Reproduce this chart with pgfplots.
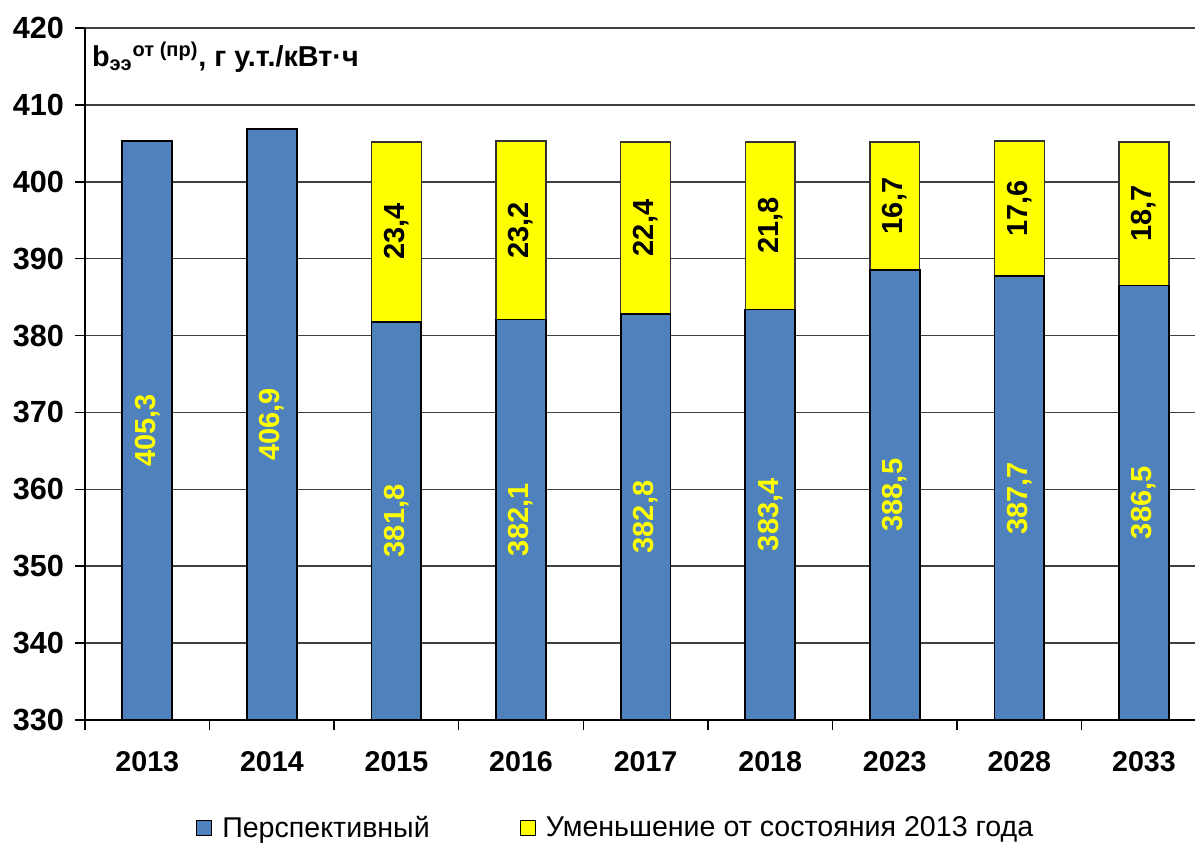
\documentclass[border=0pt]{standalone}
\usepackage{fontspec}
\setmainfont{Liberation Sans}
\usepackage{pgfplots}
\pgfplotsset{compat=1.18}
\usepackage{pgfplotstable}
\definecolor{barblue}{HTML}{4F81BD}
\definecolor{baryellow}{HTML}{FFFF00}

\pgfplotstableread{
x v lbl ymid
0 405.3 405,3 367.65
1 406.9 406,9 368.45
2 381.8 381,8 355.9
3 382.1 382,1 356.05
4 382.8 382,8 356.4
5 383.4 383,4 356.7
6 388.5 388,5 359.25
7 387.7 387,7 358.85
8 386.5 386,5 358.25
}\persp

\pgfplotstableread{
x total lbl ymid
2 405.2 23,4 393.5
3 405.3 23,2 393.7
4 405.2 22,4 394.0
5 405.2 21,8 394.3
6 405.2 16,7 396.85
7 405.3 17,6 396.5
8 405.2 18,7 395.85
}\decr

\begin{document}
\begin{tikzpicture}
\begin{axis}[
  at={(0,0)}, anchor=south west,
  scale only axis,
  width=555pt, height=346pt,
  xmin=-0.5, xmax=8.41,
  ymin=330, ymax=420,
  ytick={330,340,...,420},
  xtick={0,...,8},
  xticklabels={2013,2014,2015,2016,2017,2018,2023,2028,2033},
  minor xtick={-0.5,0.5,...,8.5},
  axis x line*=bottom, axis y line*=left,
  axis line style={-, black, line width=0.75pt},
  tick align=outside,
  major tick length=5pt, minor tick length=5pt,
  major x tick style={draw=none},
  minor x tick style={draw=black, line width=0.75pt},
  major y tick style={draw=black, line width=0.75pt},
  ymajorgrids,
  major grid style={draw=black!75, line width=0.75pt},
  /pgf/number format/assume math mode=true,
  yticklabel style={font=\bfseries\fontsize{15.3}{15}\selectfont, xshift=-2pt},
  xticklabel style={font=\bfseries\fontsize{14.3}{14}\selectfont, yshift=-7pt},
  legend columns=2,
  legend image code/.code={\draw[#1, line width=0.6pt] (0pt,-3.75pt) rectangle (7.5pt,3.75pt);},
  legend style={draw=none, fill=none, at={(0.479,-0.156)}, anchor=center,
    font=\fontsize{14.3}{16}\selectfont,
    /tikz/every odd column/.append style={column sep=3pt},
    /tikz/every even column/.append style={column sep=43pt}},
  clip=true,
]
\addlegendimage{fill=barblue, draw=black}
\addlegendentry{Перспективный}
\addlegendimage{fill=baryellow, draw=black}
\addlegendentry{Уменьшение от состояния 2013 года}

\addplot[ybar, bar width=0.4, bar shift=0pt, fill=baryellow, draw=black!80, line width=0.75pt, forget plot]
  table[x=x, y=total]{\decr};
\addplot[ybar, bar width=0.4, bar shift=0pt, fill=barblue, draw=black, line width=0.9pt, forget plot]
  table[x=x, y=v]{\persp};

\addplot[draw=none, mark=none, forget plot, nodes near coords, point meta=explicit symbolic,
  nodes near coords align=center,
  every node near coord/.append style={anchor=center, rotate=90, text=baryellow, font=\bfseries\fontsize{14.5}{14}\selectfont}]
  table[x=x, y=ymid, meta=lbl]{\persp};
\addplot[draw=none, mark=none, forget plot, nodes near coords, point meta=explicit symbolic,
  nodes near coords align=center,
  every node near coord/.append style={anchor=center, rotate=90, text=black, font=\bfseries\fontsize{14.5}{14}\selectfont}]
  table[x=x, y=ymid, meta=lbl]{\decr};

\node[anchor=west, font=\bfseries\fontsize{14.4}{14}\selectfont, inner sep=0pt] at (rel axis cs:0.006,0.958)
  {b\textsubscript{ээ}\textsuperscript{от (пр)}, г у.т./кВт·ч};
\end{axis}
\pgfresetboundingbox
\path (-42.5pt,-61pt) rectangle (555pt,360pt);
\end{tikzpicture}
\end{document}
